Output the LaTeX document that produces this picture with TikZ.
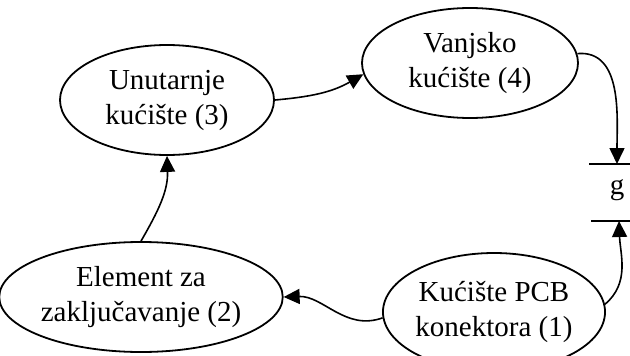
\documentclass[tikz,border=0pt]{standalone}
\usepackage{fontspec}
\setmainfont{Liberation Serif}
\usetikzlibrary{arrows.meta,shapes.geometric}

\begin{document}
\begin{tikzpicture}[
  x=1pt, y=-1pt,
  part/.style={draw=black, ellipse, line width=1.8pt, inner sep=0pt, align=center,
    font=\fontsize{29}{35}\selectfont},
  line/.style={-{Triangle[length=16pt, width=15pt]}, line width=1.6pt, draw=black}
]
\useasboundingbox (0,0) rectangle (630,356);
\node[part, minimum width=214pt, minimum height=110pt] (inner) at (167,100) {Unutarnje\\kućište (3)};
\node[part, minimum width=216pt, minimum height=110pt] (outer) at (470,63) {Vanjsko\\kućište (4)};
\node[part, minimum width=258pt, minimum height=110pt] (lock) at (141,297) {Element za\\zaključavanje (2)};
\node[part, minimum width=218pt, minimum height=118pt] (pcb) at (494,312) {Kućište PCB\\konektora (1)};
\node[font=\fontsize{29}{35}\selectfont] (gap) at (617,190) {g};

\coordinate (gtop) at (617,164);
\coordinate (gbot) at (619,221);
\draw[line width=1.8pt] (589,164) -- (630,164);
\draw[line width=1.8pt] (591,221) -- (630,221);

\draw[line] (pcb.183) to[out=200, in=2] (lock.east);
\draw[line] (lock.north) to[out=60, in=272] (inner.south);
\draw[line] (inner.east) to[out=5, in=210] (outer.186);
\draw[line] (outer.5) to[out=5, in=90] (gtop);
\draw[line] (pcb.4) to[out=40, in=272] (gbot);
\end{tikzpicture}
\end{document}
